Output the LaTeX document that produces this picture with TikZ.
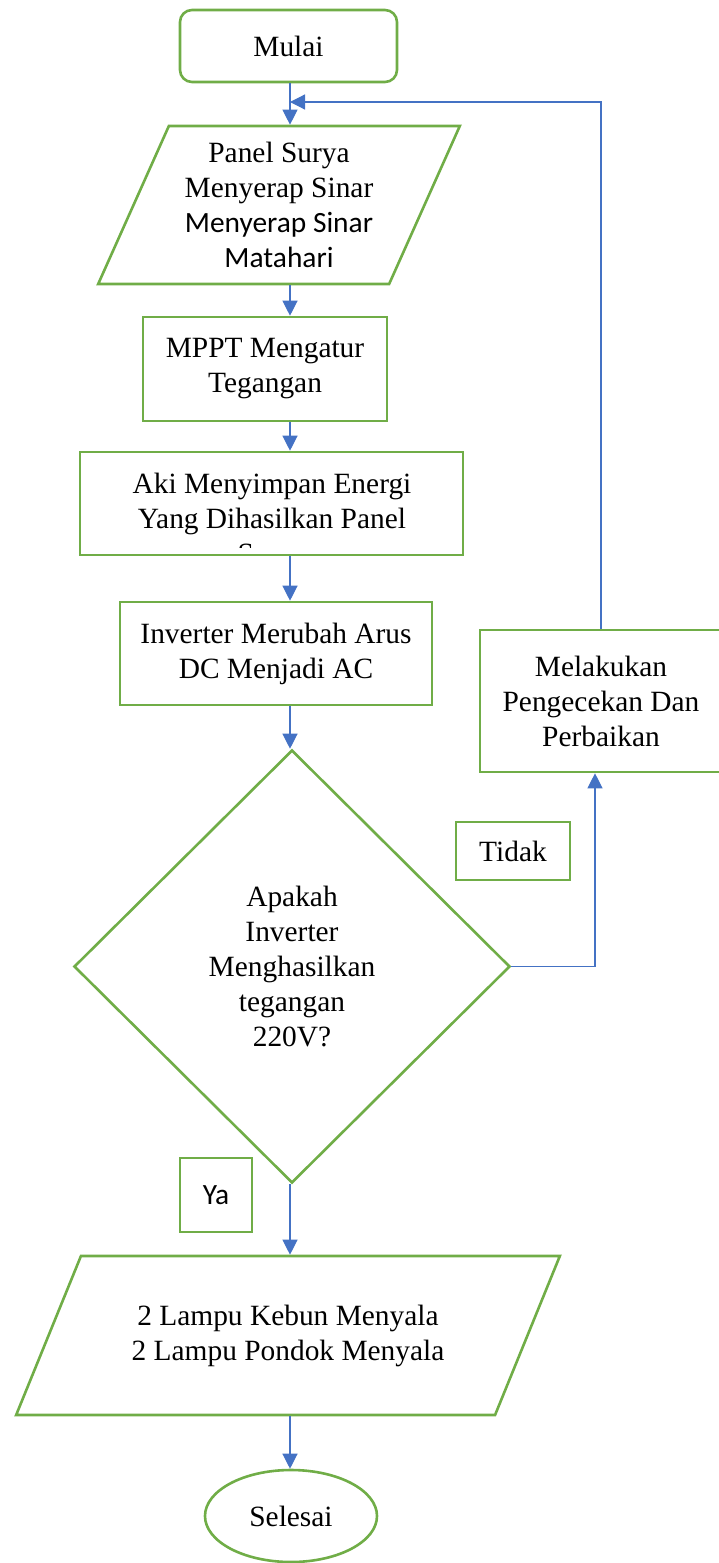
\documentclass[tikz,border=0pt]{standalone}
\usepackage{fontspec}
\setmainfont{Liberation Serif}
\newfontfamily\carlito{Carlito}
\usepackage{xcolor}
\usetikzlibrary{
    shapes.geometric,
    arrows.meta
}
\definecolor{boxgreen}{HTML}{70AD47}
\definecolor{flowblue}{HTML}{4472C4}

\begin{document}
\begin{tikzpicture}[x=0.5pt, y=-0.5pt,
        box/.style={draw=boxgreen, line width=1.3pt, align=center, font=\fontsize{14.7}{17.5}\selectfont},
        io/.style={box, trapezium, trapezium stretches=true},
        flow/.style={draw, color=flowblue, line width=0.6pt, -{Triangle[length=7.5pt, width=7.5pt]}}]
                                \useasboundingbox (0,0) rectangle (718,1563);
                                \coordinate (axis) at (290,0);
                                \coordinate (join) at (290,102);
                                \node[box, rounded corners=6pt, minimum width=108.5pt, minimum height=36pt] (mulai) at (288.5,46) {Mulai};
                                \node[io, trapezium left angle=65, trapezium right angle=115, minimum width=181pt, minimum height=79pt] (panel) at (279,205) {Panel Surya\\Menyerap Sinar\\{\carlito Menyerap Sinar}\\{\carlito Matahari}};
                                \node[box, minimum width=122pt, minimum height=52pt] (mppt) at (265,369) {MPPT Mengatur\\Tegangan};
                                \node[box, minimum width=191.5pt, minimum height=51.5pt] (aki) at (271.5,503.5) {};
                                \begin{scope}
                                    \clip (aki.north west) rectangle ([yshift=4.5pt]aki.south east);
                                    \node[align=center, font=\fontsize{14.7}{17.5}\selectfont] (akitext) at (272,521) {Aki Menyimpan Energi\\Yang Dihasilkan Panel\\Surya};
                                \end{scope}
                                \node[box, minimum width=156pt, minimum height=51.5pt] (inverter) at (276,653.5) {Inverter Merubah Arus\\DC Menjadi AC};
                                \node[box, diamond, minimum width=218pt, minimum height=216.5pt] (cek220) at (292,966.5) {Apakah\\Inverter\\Menghasilkan\\tegangan\\220V?};
                                \node[box, minimum width=121pt, minimum height=71pt] (perbaikan) at (601,701) {Melakukan\\Pengecekan Dan\\Perbaikan};
                                \node[box, minimum width=57pt, minimum height=29pt] (tidak) at (513,851) {Tidak};
                                \node[box, minimum width=36pt, minimum height=37pt, font=\fontsize{14.7}{17.5}\carlito] (ya) at (216,1195) {Ya};
                                \node[io, trapezium left angle=55.8, trapezium right angle=124.2, minimum width=272pt, minimum height=79.5pt] (lampu) at (288,1335.5) {2 Lampu Kebun Menyala\\2 Lampu Pondok Menyala};
                                \node[box, ellipse, minimum width=86pt, minimum height=46pt] (selesai) at (291,1516) {Selesai};
                                \path
                                (mulai.south -| axis) edge[flow] (panel.north -| axis)
                                (panel.south -| axis) edge[flow] (mppt.north -| axis)
                                (mppt.south -| axis) edge[flow] (aki.north -| axis)
                                (aki.south -| axis) edge[flow] (inverter.north -| axis)
                                (inverter.south -| axis) edge[flow] (cek220.north -| axis)
                                (cek220.south -| axis) edge[flow] (lampu.north -| axis)
                                (lampu.south -| axis) edge[flow] (selesai.north -| axis);
                                \draw[flow] (cek220.east) -| ([xshift=-3pt]perbaikan.south);
                                \draw[flow] (perbaikan.north) |- (join);
                            \end{tikzpicture}
\end{document}
